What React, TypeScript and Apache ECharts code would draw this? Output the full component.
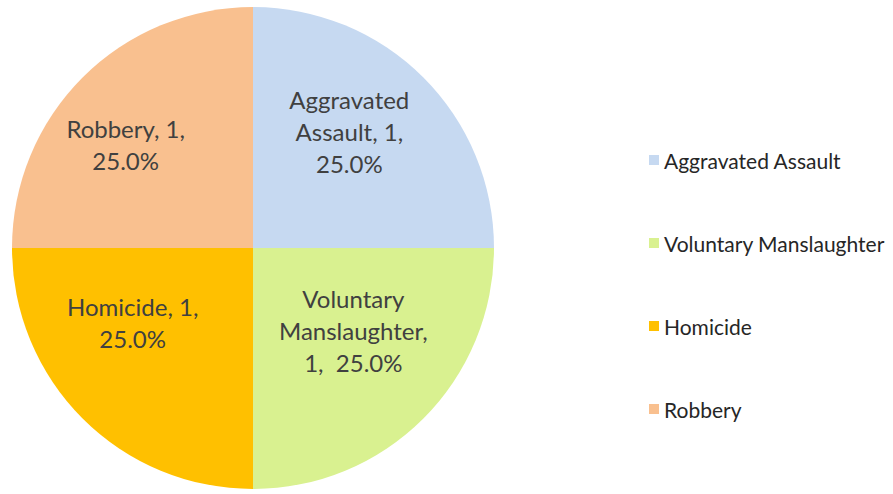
import React, { useEffect, useRef } from "react";
import * as echarts from "echarts";

const categories = ["Aggravated Assault", "Voluntary Manslaughter", "Homicide", "Robbery"];
const values = [1, 1, 1, 1];
const colors = ["#C6D9F1", "#D9F190", "#FFC000", "#F9C08F"];
const labelTexts = [
  (v: number, p: string) => `Aggravated\nAssault, ${v},\n${p}%`,
  (v: number, p: string) => `Voluntary\nManslaughter,\n${v},  ${p}%`,
  (v: number, p: string) => `Homicide, ${v},\n${p}%`,
  (v: number, p: string) => `Robbery, ${v},\n${p}%`,
];
const labelOffsets: [number, number][] = [
  [9, -29],
  [13, -5],
  [-33, -13],
  [-40, -16],
];

export default function App() {
  const ref = useRef<HTMLDivElement>(null);
  useEffect(() => {
    if (!ref.current) return;
    const chart = echarts.init(ref.current, undefined, { renderer: "svg" });
    chart.setOption({
      animation: false,
      legend: {
        orient: "vertical",
        left: 644,
        top: 144,
        itemWidth: 10,
        itemHeight: 10,
        itemGap: 61,
        icon: "rect",
        data: categories,
        textStyle: {
          fontFamily: "Lato",
          fontSize: 21,
          color: "#262626",
          lineHeight: 22,
        },
      },
      series: [
        {
          type: "pie",
          center: [253, 248],
          radius: 241,
          startAngle: 90,
          clockwise: true,
          label: {
            position: "inside",
            fontFamily: "Lato",
            fontSize: 24,
            lineHeight: 32,
            color: "#404040",
            align: "center",
            formatter: (p: any) => labelTexts[p.dataIndex](p.value, p.percent.toFixed(1)),
          },
          labelLine: { show: false },
          emphasis: { disabled: true },
          data: categories.map((name, i) => ({
            name,
            value: values[i],
            itemStyle: { color: colors[i] },
            label: { offset: labelOffsets[i] },
          })),
        },
      ],
    });
    return () => chart.dispose();
  }, []);
  return (
    <div
      ref={ref}
      style={{ position: "absolute", left: 0, top: 0, width: 893, height: 494, background: "#fff" }}
    />
  );
}
